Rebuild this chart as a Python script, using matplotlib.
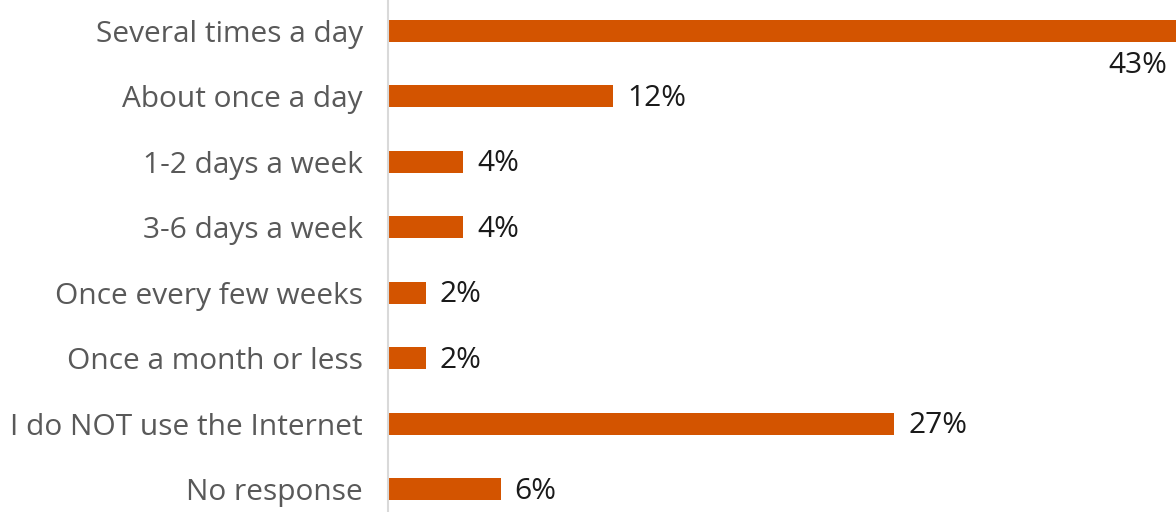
import matplotlib
matplotlib.use('Agg')
import matplotlib.pyplot as plt

# ==== Data ====
categories = [
    'Several times a day',
    'About once a day',
    '1-2 days a week',
    '3-6 days a week',
    'Once every few weeks',
    'Once a month or less',
    'I do NOT use the Internet',
    'No response',
]
shares = [43, 12, 4, 4, 2, 2, 27, 6]

BAR_COLOR = '#d35400'
LABEL_COLOR = '#595959'
VALUE_COLOR = '#1a1a1a'

plt.rcParams['font.family'] = ['Open Sans', 'DejaVu Sans']

W, H, DPI = 1176, 512, 100
fig = plt.figure(figsize=(W / DPI, H / DPI), dpi=DPI)
left = 388 / W
ax = fig.add_axes([left, 0, 1 - left, 1])

ypos = list(range(len(categories)))
ax.barh(ypos, shares, height=0.336, color=BAR_COLOR, zorder=2)

# 18.75 px per percentage point; the top bar runs off the right edge
ax.set_xlim(0, 788 / 18.75)
row = 65.43
ax.set_ylim((H - 31) / row, -31 / row)

ax.set_yticks(ypos)
ax.set_yticklabels(categories, fontsize=21.5, color=LABEL_COLOR)
ax.tick_params(axis='y', length=0, pad=18)
ax.set_xticks([])

for side in ['top', 'right', 'bottom']:
    ax.spines[side].set_visible(False)
ax.spines['left'].set_color('#d9d9d9')
ax.spines['left'].set_linewidth(1.5)

for i, v in enumerate(shares):
    if i == 0:
        # no room to the right of the longest bar, put it underneath
        ax.annotate(f'{v}%', xy=(1, i), xycoords=('axes fraction', 'data'),
                    xytext=(-6, -25), textcoords='offset points',
                    ha='right', va='center', fontsize=21.5, color=VALUE_COLOR)
    else:
        ax.annotate(f'{v}%', xy=(v, i), xytext=(10, -1.5), textcoords='offset points',
                    ha='left', va='center', fontsize=21.5, color=VALUE_COLOR)

fig.savefig('out.png', dpi=DPI)
